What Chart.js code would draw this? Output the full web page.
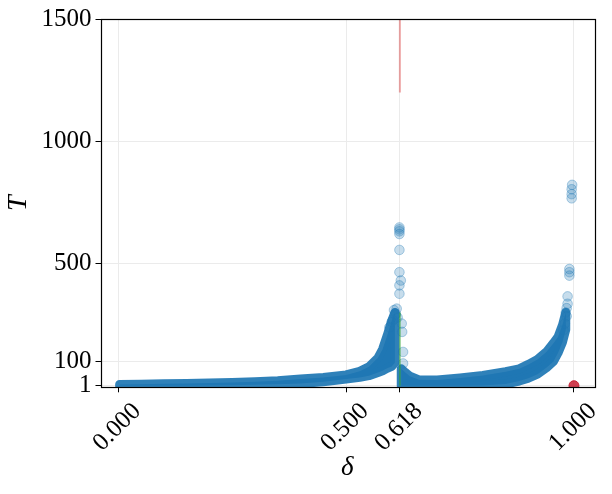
<!DOCTYPE html>
<html>
<head>
<meta charset="utf-8">
<script src="https://cdn.jsdelivr.net/npm/chart.js@4.4.0/dist/chart.umd.min.js"></script>
<style>
  html, body { margin: 0; padding: 0; background: #fff; }
  #wrap { width: 612px; height: 494px; }
</style>
</head>
<body>
<div id="wrap"><canvas id="chart"></canvas></div>
<script>
// T against delta: two branches that blow up at 0.618 and at 1.000

// Dense part of the cloud, left branch (lower and upper edge of the point centres)
const leftDelta = [0.003, 0.05, 0.1, 0.15, 0.2, 0.25, 0.3, 0.35, 0.4, 0.45, 0.5, 0.53, 0.55, 0.57, 0.58, 0.59, 0.6, 0.607];
const leftHigh = [6, 7, 9, 10, 12, 14, 17, 21, 28, 35, 45, 60, 78, 115, 150, 205, 265, 300];
const leftLow = [1, 1, 1, 1, 2, 3, 5, 7, 10, 17, 28, 35, 42, 55, 62, 72, 80, 95];

// Dense part of the cloud, right branch
const rightDelta = [0.621, 0.63, 0.64, 0.66, 0.7, 0.75, 0.8, 0.85, 0.88, 0.9, 0.92, 0.94, 0.955, 0.965, 0.975, 0.982];
const rightHigh = [70, 55, 40, 25, 24, 33, 43, 58, 70, 88, 108, 140, 175, 200, 250, 300];
const rightLow = [1, 1, 1, 1, 1, 1, 2, 8, 20, 32, 48, 75, 100, 135, 180, 230];

// Loose points around the first spike
const spikeDelta = [0.617, 0.617, 0.617, 0.617, 0.617, 0.617, 0.62, 0.617, 0.617, 0.611, 0.609, 0.622, 0.623, 0.625, 0.625, 0.605, 0.608, 0.613, 0.603, 0.6, 0.595];
const spikeT = [648, 640, 632, 621, 556, 465, 431, 411, 377, 316, 295, 255, 221, 139, 92, 310, 290, 280, 270, 262, 240];

// Loose points near delta = 1
const endDelta = [0.996, 0.995, 0.995, 0.995, 0.99, 0.99, 0.99, 0.986, 0.986, 0.984, 0.98, 0.977, 0.982, 0.984];
const endT = [822, 804, 784, 767, 478, 465, 451, 366, 336, 285, 255, 228, 300, 318];

// Markers
const goldenDelta = 0.618;
const greenRange = [1, 300];
const redRange = [1200, 1600];
const endPoint = { x: 1.0, y: 1 };

const xTicks = [0, 0.5, 0.618, 1];
const yTicks = [1, 100, 500, 1000, 1500];

const BLUE = '31, 119, 180';

// closed outline: upper edge left to right, lower edge back
function outline(ds, hi, lo) {
  const pts = ds.map((d, i) => ({ x: d, y: hi[i] }));
  for (let i = ds.length - 1; i >= 0; i--) pts.push({ x: ds[i], y: lo[i] });
  pts.push({ x: ds[0], y: hi[0] });
  return pts;
}

const bandStyle = {
  showLine: true,
  fill: 'shape',
  backgroundColor: 'rgb(' + BLUE + ')',
  borderColor: 'rgba(' + BLUE + ', 0.93)',
  borderWidth: 9,
  borderJoinStyle: 'round',
  borderCapStyle: 'round',
  pointRadius: 0,
  tension: 0,
  clip: 0,
  order: 3
};

const looseStyle = {
  backgroundColor: 'rgba(' + BLUE + ', 0.25)',
  borderColor: 'rgba(' + BLUE + ', 0.35)',
  borderWidth: 1,
  pointRadius: 4.8,
  clip: 0,
  order: 2
};

Chart.defaults.font.family = 'Liberation Serif';
Chart.defaults.color = '#000';

// full frame around the plot
const frame = {
  id: 'frame',
  afterDatasetsDraw(chart) {
    const { ctx, chartArea: a } = chart;
    ctx.save();
    ctx.strokeStyle = '#000';
    ctx.lineWidth = 1.2;
    ctx.strokeRect(Math.round(a.left) + 0.5, Math.round(a.top) + 0.5,
      Math.round(a.right - a.left), Math.round(a.bottom - a.top));
    ctx.restore();
  }
};

// x tick labels rotated 45 and centred on the tick
const xLabels = {
  id: 'xLabels',
  afterDraw(chart) {
    const { ctx, chartArea: a } = chart;
    const sx = chart.scales.x;
    ctx.save();
    ctx.font = '25px "Liberation Serif"';
    ctx.fillStyle = '#000';
    ctx.textAlign = 'center';
    ctx.textBaseline = 'middle';
    xTicks.forEach((v) => {
      ctx.save();
      ctx.translate(sx.getPixelForValue(v) - 1, a.bottom + 40);
      ctx.rotate(-Math.PI / 4);
      ctx.fillText(v.toFixed(3), 0, 0);
      ctx.restore();
    });
    ctx.restore();
  }
};

new Chart(document.getElementById('chart'), {
  type: 'scatter',
  data: {
    datasets: [
      Object.assign({ data: outline(leftDelta, leftHigh, leftLow) }, bandStyle),
      Object.assign({ data: outline(rightDelta, rightHigh, rightLow) }, bandStyle),
      Object.assign({ data: spikeDelta.map((d, i) => ({ x: d, y: spikeT[i] })) }, looseStyle),
      Object.assign({ data: endDelta.map((d, i) => ({ x: d, y: endT[i] })) }, looseStyle),
      {
        data: greenRange.map((t) => ({ x: goldenDelta, y: t })),
        showLine: true,
        borderColor: 'rgba(44, 160, 44, 0.55)',
        borderWidth: 1.8,
        pointRadius: 0,
        clip: 0,
        order: 1
      },
      {
        data: redRange.map((t) => ({ x: goldenDelta, y: t })),
        showLine: true,
        borderColor: 'rgba(214, 39, 40, 0.4)',
        borderWidth: 2,
        pointRadius: 0,
        clip: 0,
        order: 1
      },
      {
        data: [endPoint],
        backgroundColor: 'rgba(200, 30, 50, 0.85)',
        borderColor: 'rgba(200, 30, 50, 0.9)',
        borderWidth: 1,
        pointRadius: 5,
        clip: 0,
        order: 0
      }
    ]
  },
  options: {
    responsive: true,
    maintainAspectRatio: false,
    animation: false,
    layout: { padding: { left: 0, right: 18, top: 17, bottom: 0 } },
    plugins: {
      legend: { display: false },
      tooltip: { enabled: false }
    },
    scales: {
      x: {
        type: 'linear',
        min: -0.039,
        max: 1.044,
        afterBuildTicks: (s) => { s.ticks = xTicks.map((v) => ({ value: v })); },
        afterFit: (s) => { s.height = 106.7; },
        ticks: { display: false },
        grid: { color: '#ebebeb', lineWidth: 1, tickColor: '#000', tickLength: 5, tickWidth: 1 },
        border: { display: false },
        title: {
          display: true,
          text: 'δ',
          font: { size: 27, style: 'italic' },
          padding: { top: 0, bottom: 10 }
        }
      },
      y: {
        type: 'linear',
        min: -5.5,
        max: 1500,
        afterBuildTicks: (s) => { s.ticks = yTicks.map((v) => ({ value: v })); },
        afterFit: (s) => { s.width = 100.5; },
        ticks: {
          font: { size: 25 },
          padding: 4,
          callback: (v) => String(v)
        },
        grid: { color: '#ebebeb', lineWidth: 1, tickColor: '#000', tickLength: 5, tickWidth: 1 },
        border: { display: false },
        title: {
          display: true,
          text: 'T',
          font: { size: 28, style: 'italic' },
          padding: { top: 1.5, bottom: 0 }
        }
      }
    }
  },
  plugins: [frame, xLabels]
});
</script>
</body>
</html>
